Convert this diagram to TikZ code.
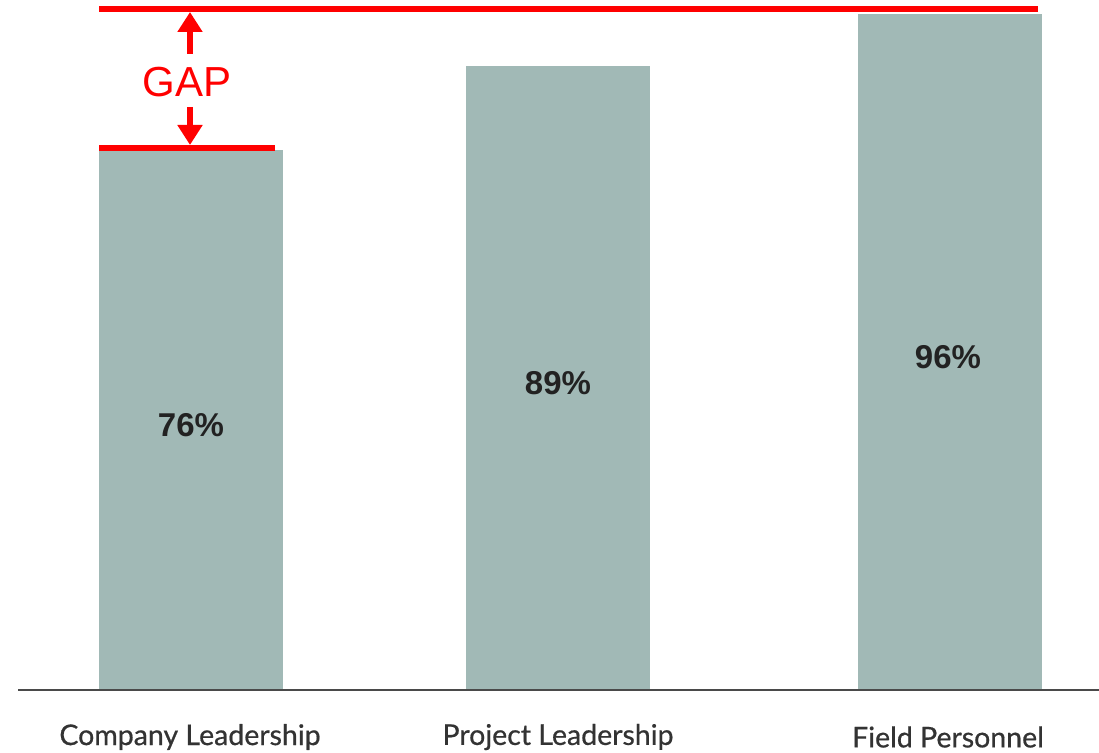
\documentclass[tikz,border=0pt]{standalone}
\usepackage{fontspec}
\setmainfont{Liberation Sans}
\newfontfamily\labfont[FakeBold=0.6]{Lato}
\usetikzlibrary{arrows.meta}
\definecolor{barc}{HTML}{A1B9B6}
\definecolor{axisc}{HTML}{4A4A4A}
\definecolor{txtc}{HTML}{222222}
\definecolor{labc}{HTML}{333333}
\definecolor{gapred}{HTML}{FF0000}
\tikzset{
  bar/.style={fill=barc, draw=none, anchor=south, minimum width=184pt, inner sep=0pt},
  pct/.style={font=\fontsize{33}{36}\selectfont\bfseries, text=txtc},
  cat/.style={font=\labfont\fontsize{28.5}{32}\selectfont, text=labc},
  redline/.style={draw=gapred, line width=6pt},
  gaparrow/.style={draw=gapred, line width=6pt, -{Triangle[width=24pt,length=20pt]}},
}
\begin{document}
\begin{tikzpicture}[x=1pt,y=1pt]
\useasboundingbox (0,0) rectangle (1099,752);
\fill[white] (0,0) rectangle (1099,752);
% bars (bottom at y=62)
\node[bar, minimum height=540pt] (b1) at (191,62) {};
\node[bar, minimum height=624pt] (b2) at (558,62) {};
\node[bar, minimum height=676pt] (b3) at (950,62) {};
% axis
\coordinate (axL) at (18,62);
\coordinate (axR) at (1099,62);
\draw[axisc, line width=2pt] (axL) -- (axR);
% percent labels
\node[pct] (p1) at (191,327) {76\%};
\node[pct] (p2) at (558,369) {89\%};
\node[pct] (p3) at (948,395) {96\%};
% category labels
\node[cat] (c1) at (190,15) {Company Leadership};
\node[cat] (c2) at (558,15) {Project Leadership};
\node[cat] (c3) at (948,15) {Field Personnel};
% gap markers
\coordinate (t1) at (99,743);
\coordinate (t2) at (1038,743);
\coordinate (l1) at (99,604);
\coordinate (l2) at (275,604);
\draw[redline] (t1) -- (t2);
\draw[redline] (l1) -- (l2);
\node[text=gapred, font=\fontsize{42}{46}\selectfont, inner sep=0pt] (gap) at (187,670) {GAP};
\coordinate (au) at (190,740);
\coordinate (ad) at (190,607);
\draw[gaparrow] (190,698) -- (au);
\draw[gaparrow] (190,645) -- (ad);
\end{tikzpicture}
\end{document}
